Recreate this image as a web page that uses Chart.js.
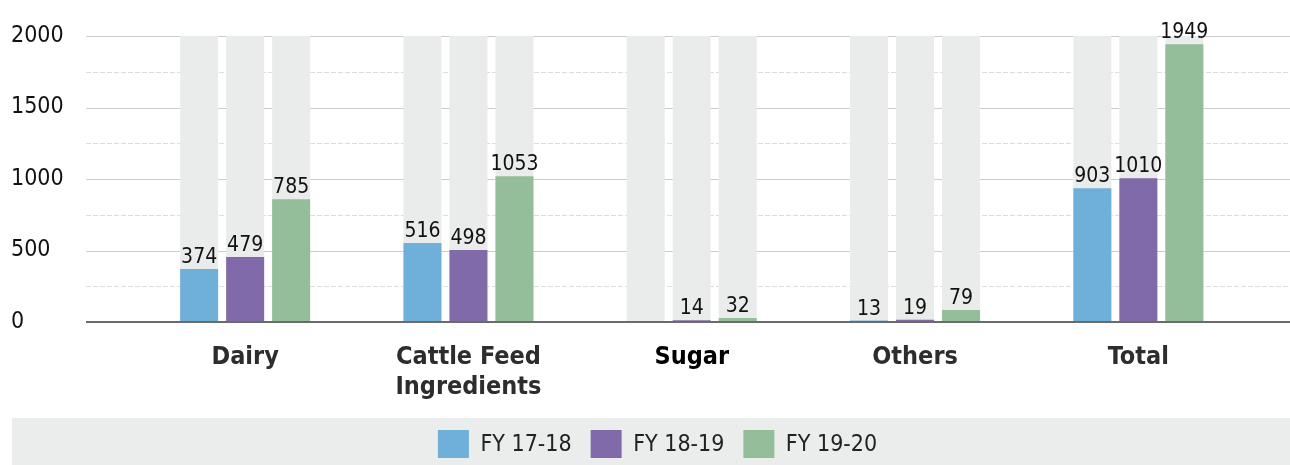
<!DOCTYPE html>
<html>
<head>
<meta charset="utf-8">
<script src="https://cdn.jsdelivr.net/npm/chart.js@4.4.0/dist/chart.umd.min.js"></script>
<style>
  html, body { margin: 0; padding: 0; background: #fff; }
  #wrap { width: 1290px; height: 465px; position: relative; }
</style>
</head>
<body>
<div id="wrap"><canvas id="chart"></canvas></div>
<script>
// data (bar heights) plus the printed labels
const categories = ['Dairy', ['Cattle Feed', 'Ingredients'], 'Sugar', 'Others', 'Total'];
const seriesNames = ['FY 17-18', 'FY 18-19', 'FY 19-20'];
const fy1718 = [370, 552, null, 10, 935];
const fy1819 = [454, 503, 12, 16, 1005];
const fy1920 = [859, 1019, 28, 84, 1943];
const fy1718Labels = ['374', '516', '', '13', '903'];
const fy1819Labels = ['479', '498', '14', '19', '1010'];
const fy1920Labels = ['785', '1053', '32', '79', '1949'];
const yMax = 2000;
const yStep = 250;

const colors = ['#6fb0db', '#806aaa', '#94bd99'];
const FONT = "'DejaVu Sans Condensed', 'DejaVu Sans', sans-serif";
Chart.defaults.font.family = FONT;

const LEGEND_H = 47;

const values = [fy1718, fy1819, fy1920];
const labelTexts = [fy1718Labels, fy1819Labels, fy1920Labels];

const datasets = [];
values.forEach((vals, i) => {
    datasets.push({
        label: seriesNames[i],
        data: vals,
        backgroundColor: colors[i],
        stack: 's' + i,
        order: 1
    });
});
// grey full-height bars behind each series
values.forEach((vals, i) => {
    datasets.push({
        label: 'bg' + i,
        data: categories.map(() => yMax),
        backgroundColor: '#eaebeb',
        stack: 's' + i,
        order: 2
    });
});

const decor = {
    id: 'decor',
    afterInit(chart) {
        // keep the legend band short even with wide item spacing
        const lg = chart.legend;
        const fit = lg.fit.bind(lg);
        lg.fit = function () { fit(); this.height = LEGEND_H; };
    },
    afterLayout(chart) {
        const lg = chart.legend;
        lg.top -= 7; lg.bottom -= 7;
        lg.left += 27; lg.right += 27;
    },
    beforeDraw(chart) {
        const c = chart.ctx;
        c.save();
        c.fillStyle = '#ebecec';
        c.fillRect(12, chart.height - LEGEND_H, chart.width - 12, LEGEND_H);
        c.restore();
    },
    beforeDatasetsDraw(chart) {
        const c = chart.ctx, y = chart.scales.y;
        c.save();
        y.ticks.forEach(t => {
            if (t.value === 0) return;
            const py = Math.round(y.getPixelForValue(t.value)) + 0.5;
            const major = t.value % 500 === 0;
            c.strokeStyle = major ? '#cccccc' : '#dddddd';
            c.lineWidth = 1;
            c.setLineDash(major ? [] : [5, 2]);
            c.beginPath();
            c.moveTo(86, py);
            c.lineTo(chart.width, py);
            c.stroke();
        });
        c.restore();
    },
    afterDatasetsDraw(chart) {
        const c = chart.ctx, y = chart.scales.y;
        c.save();
        const py = y.getPixelForValue(0);
        c.strokeStyle = '#6b6b6b';
        c.lineWidth = 2;
        c.beginPath();
        c.moveTo(86, py);
        c.lineTo(chart.width, py);
        c.stroke();

        c.fillStyle = '#111';
        c.font = '21px ' + FONT;
        c.textAlign = 'center';
        c.textBaseline = 'alphabetic';
        labelTexts.forEach((texts, i) => {
            const meta = chart.getDatasetMeta(i);
            meta.data.forEach((bar, j) => {
                if (!texts[j]) return;
                c.fillText(texts[j], bar.x, bar.y - 6);
            });
        });
        c.restore();
    }
};

new Chart(document.getElementById('chart'), {
    type: 'bar',
    data: { labels: categories, datasets: datasets },
    options: {
        responsive: true,
        maintainAspectRatio: false,
        animation: false,
        layout: { padding: { left: 11, right: 40, top: 36, bottom: 0 } },
        datasets: {
            bar: { categoryPercentage: 0.618, barPercentage: 0.826 }
        },
        scales: {
            x: {
                stacked: true,
                grid: { display: false },
                border: { display: false },
                ticks: {
                    padding: 12,
                    font: { size: 25, weight: 'bold' },
                    color: ctx => ctx.index === 2 ? '#000' : '#2d2d2d',
                    maxRotation: 0,
                    autoSkip: false
                },
                afterFit: scale => { scale.height = 96; }
            },
            y: {
                stacked: false,
                min: 0,
                max: yMax,
                grid: { display: false },
                border: { display: false },
                ticks: {
                    stepSize: yStep,
                    crossAlign: 'far',
                    font: { size: 23 },
                    color: '#111',
                    callback: v => v % 500 === 0 ? v : ''
                },
                afterFit: scale => { scale.width = 122.5; }
            }
        },
        plugins: {
            legend: {
                position: 'bottom',
                labels: {
                    boxWidth: 31,
                    boxHeight: 31,
                    padding: 19,
                    color: '#222',
                    font: { size: 23 },
                    filter: item => !item.text.startsWith('bg')
                }
            },
            tooltip: { enabled: false }
        }
    },
    plugins: [decor]
});
</script>
</body>
</html>
